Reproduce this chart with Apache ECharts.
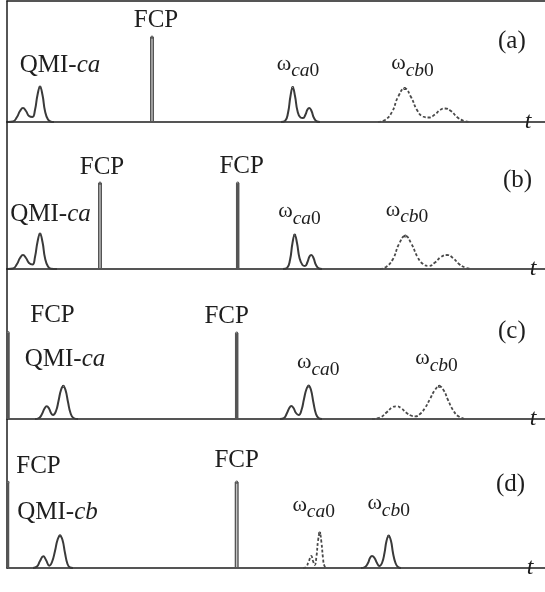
<!DOCTYPE html>
<html>
<head>
<meta charset="utf-8">
<script src="https://cdn.jsdelivr.net/npm/echarts@6/dist/echarts.min.js"></script>
<style>
html, body { margin: 0; padding: 0; background: #fff; }
#chart { width: 545px; height: 592px; }
</style>
</head>
<body>
<div id="chart"></div>
<script>
// ---- data (t in arbitrary units, amplitude in arbitrary units) ----
var panelLabels = ['(a)', '(b)', '(c)', '(d)'];
var qmiNames = ['ca', 'ca', 'ca', 'cb'];

// QMI pulse
var qmiA = [[1,0],[6,0.5],[10,5],[13,11],[16,14],[19,11],[22,6],[25.5,5],[28,12],[30.5,27],[33,35],[35.5,27],[38,11],[41,2.5],[44,0.3],[47,0]];
var qmiB = [[1,0],[6,0.5],[10,5],[13,11],[16,14],[19,11],[22,6],[25.5,4.5],[28,12],[30.5,27],[33,35],[35.5,27],[38,11],[41,2.5],[44,0.3],[50,0]];
var qmiC = [[28,0],[32,1],[35,5],[37.5,10.5],[39.7,12.7],[42,10.5],[44,6],[46,4],[49,8],[51.5,18],[54,29],[56.3,32.7],[58.5,29],[61,17],[63.5,6],[66.5,1],[71,0]];
var qmiD = [[26,0],[30,1.5],[33,7],[36.3,11.7],[39,8],[42.3,2.3],[45,6],[48,17],[50.5,28],[53,32.3],[55.5,28],[58,15],[60.5,4],[63,0.5],[66,0]];

// omega_ca0 pulse
var caA = [[274,0],[278,1],[281,9],[283.5,26],[285.7,34.5],[288,26],[290.5,11],[293.5,4.5],[296,4],[298.5,7.5],[300.5,12.5],[302.3,14],[304.5,11],[307,4],[310,0.5],[313,0]];
var caB = [[276,0],[280,1],[283,9],[285.5,26],[287.7,34],[290,26],[292.5,11],[295.5,4],[298,3],[300.5,7],[302.5,12.5],[304.3,14],[306.5,11],[309,4],[312,0.5],[315,0]];
var caC = [[273,0],[277,1],[280,6],[282.3,11],[284.3,13],[286.5,11],[289,6],[291.7,4],[294.5,9],[297,20],[299.5,30],[301.7,33],[304,29],[306.5,16],[309,5],[311.5,1],[315,0]];
var caD = [[296,0],[299,1],[301.5,6],[304.3,12],[306,7],[307.7,3],[309.5,12],[311,27],[312.7,35],[314.5,25],[316,10],[317.5,2],[320,0]];

// omega_cb0 pulse
var cbA = [[371,0],[378,2],[385,10],[391,25],[397.7,33.5],[404,25],[410,12],[416,5.5],[421.7,4.5],[428,7.5],[433,12],[438.3,13.5],[444,11],[450,5],[456,1.5],[463,0]];
var cbB = [[373,0],[379,2],[386,10],[392,25],[398.3,33],[404.5,25],[410.5,12],[416,5],[421.7,3],[428,6.5],[434,12],[440,14],[446,11],[452,5],[458,1.5],[464,0]];
var cbC = [[365,0],[373,1.5],[380,7],[385,11.5],[389,12.7],[394,11],[399,6.5],[404,3.5],[408.3,2.7],[413,5],[418,11],[423,20],[428,29],[432.3,32.7],[436.5,29],[441,19],[446,9],[451,3],[458,0]];
var cbD = [[354,0],[358,1],[361,5],[363,10],[365,12],[367.5,10],[370,5],[372.3,2],[375,5],[377.5,15],[379.5,27],[381.7,32],[384,27],[386,15],[388.5,5],[391,1],[394,0]];

// FCP pulses: times and heights
var fcpTimes = [[145], [93, 230.7], [1, 229.7], [1, 229.7]];
var fcpHeights = [[85], [86, 86], [86.6, 86], [85.7, 86]];

var qmiCurves = [qmiA, qmiB, qmiC, qmiD];
var caCurves = [caA, caB, caC, caD];
var cbCurves = [cbA, cbB, cbC, cbD];

// ---- layout / style ----
var baselines = [122, 269, 419, 568];
var tops = [1, 122, 269, 419];
var tMax = 538;
var ink = '#1e1e1e';
var curveInk = '#3a3a3a';
var serif = '"Liberation Serif", "Times New Roman", serif';

var caDashed = [false, false, false, true];
var cbDashed = [true, true, true, false];
var fcpOutlined = [[true], [true, false], [false, false], [false, true]];
var fcpWidth = [[4], [4, 3.5], [3.5, 3.5], [2.5, 4]];
var fcpOffsets = [[[4, -16.5]], [[2, -16], [4, -16.5]], [[44.5, -16.5], [-10, -16.5]], [[30.5, -15.5], [0, -22]]];
var qmiOffsets = [[20, -21.7], [10.5, -20], [1.7, -26.4], [-2.5, -23.5]];
var caOffsets = [[5.3, -19.7], [4.8, -20], [9.6, -20.1], [-6, -24.7]];
var cbOffsets = [[7.8, -21.3], [1.7, -22.4], [-2.8, -24.1], [0, -29.1]];
var tNameGap = [-17, -12, -12, -15];
var tDrop = [18, 18, 15, 13];
var panelLabelPos = [[498, 29], [503, 168], [498, 319], [496, 472]];

var rich = {
    w: { fontFamily: serif, fontSize: 22, color: ink, padding: [0, 0, 7, 0] },
    s: { fontFamily: serif, fontSize: 19.5, fontStyle: 'italic', color: ink, padding: [7, 0, 0, 0] },
    n: { fontFamily: serif, fontSize: 19.5, color: ink, padding: [7, 0, 0, 0] },
    q: { fontFamily: serif, fontSize: 25, color: ink },
    qi: { fontFamily: serif, fontSize: 25, fontStyle: 'italic', color: ink },
    f: { fontFamily: serif, fontSize: 25, color: ink }
};

function peakIndex(pts) {
    var k = 0;
    pts.forEach(function (p, i) { if (p[1] > pts[k][1]) k = i; });
    return k;
}

// curve with a text tag hung on its highest point
function curve(i, pts, text, offset, dashed) {
    var k = peakIndex(pts);
    return {
        type: 'line',
        xAxisIndex: i,
        yAxisIndex: i,
        smooth: 0.5,
        symbolSize: 1,
        silent: true,
        itemStyle: { color: curveInk },
        lineStyle: { color: dashed ? '#4a4a4a' : curveInk, width: dashed ? 1.8 : 2, type: dashed ? [3, 2] : 'solid' },
        data: pts.map(function (p, j) {
            if (j !== k) return { value: p, symbol: 'none' };
            return {
                value: p,
                label: { show: true, position: 'inside', offset: offset, formatter: text, rich: rich, color: ink }
            };
        })
    };
}

var series = [];
for (var i = 0; i < 4; i++) {
    series.push(curve(i, qmiCurves[i], '{q|QMI-}{qi|' + qmiNames[i] + '}', qmiOffsets[i], false));
    series.push(curve(i, caCurves[i], '{w|ω}{s|ca}{n|0}', caOffsets[i], caDashed[i]));
    series.push(curve(i, cbCurves[i], '{w|ω}{s|cb}{n|0}', cbOffsets[i], cbDashed[i]));
    fcpTimes[i].forEach(function (t, j) {
        var h = fcpHeights[i][j];
        series.push({
            type: 'line', xAxisIndex: i, yAxisIndex: i, silent: true,
            symbolSize: 1,
            itemStyle: { color: '#555' },
            lineStyle: { color: '#555', width: fcpWidth[i][j] },
            data: [{ value: [t, 0], symbol: 'none' }, {
                value: [t, h],
                label: { show: true, position: 'inside', offset: fcpOffsets[i][j], formatter: '{f|FCP}', rich: rich, color: ink }
            }]
        });
        if (fcpOutlined[i][j]) {
            series.push({
                type: 'line', xAxisIndex: i, yAxisIndex: i, silent: true, showSymbol: false,
                lineStyle: { color: '#cfcfcf', width: 1.2 },
                data: [[t, 1], [t, h - 1.5]]
            });
        }
    });
}

var grids = [], xAxes = [], yAxes = [], titles = [];
for (var g = 0; g < 4; g++) {
    grids.push({ left: 7, width: tMax, top: tops[g], height: baselines[g] - tops[g] });
    xAxes.push({
        type: 'value', gridIndex: g, min: 0, max: tMax,
        axisLine: { show: true, onZero: false, lineStyle: { color: ink, width: 1.5 } },
        axisTick: { show: false }, axisLabel: { show: false }, splitLine: { show: false },
        name: 't', nameLocation: 'end', nameGap: tNameGap[g],
        nameTextStyle: {
            fontFamily: serif, fontSize: 24, fontStyle: 'italic', color: ink,
            align: 'center', verticalAlign: 'middle', padding: [tDrop[g] * 2, 0, 0, 0]
        }
    });
    yAxes.push({
        type: 'value', gridIndex: g, min: 0, max: baselines[g] - tops[g],
        axisLine: { show: true, onZero: false, lineStyle: { color: ink, width: 1.5 } },
        axisTick: { show: false }, axisLabel: { show: false }, splitLine: { show: false }
    });
    titles.push({
        text: panelLabels[g], left: panelLabelPos[g][0], top: panelLabelPos[g][1], padding: 0,
        textStyle: { fontFamily: serif, fontSize: 25, fontWeight: 'normal', color: ink }
    });
}
// frame line along the top of panel (a)
xAxes.push({
    type: 'value', gridIndex: 0, min: 0, max: tMax, position: 'top',
    axisLine: { show: true, onZero: false, lineStyle: { color: ink, width: 1.5 } },
    axisTick: { show: false }, axisLabel: { show: false }, splitLine: { show: false }
});

var chart = echarts.init(document.getElementById('chart'));
chart.setOption({
    animation: false,
    backgroundColor: '#fff',
    title: titles,
    grid: grids,
    xAxis: xAxes,
    yAxis: yAxes,
    series: series
});
</script>
</body>
</html>
